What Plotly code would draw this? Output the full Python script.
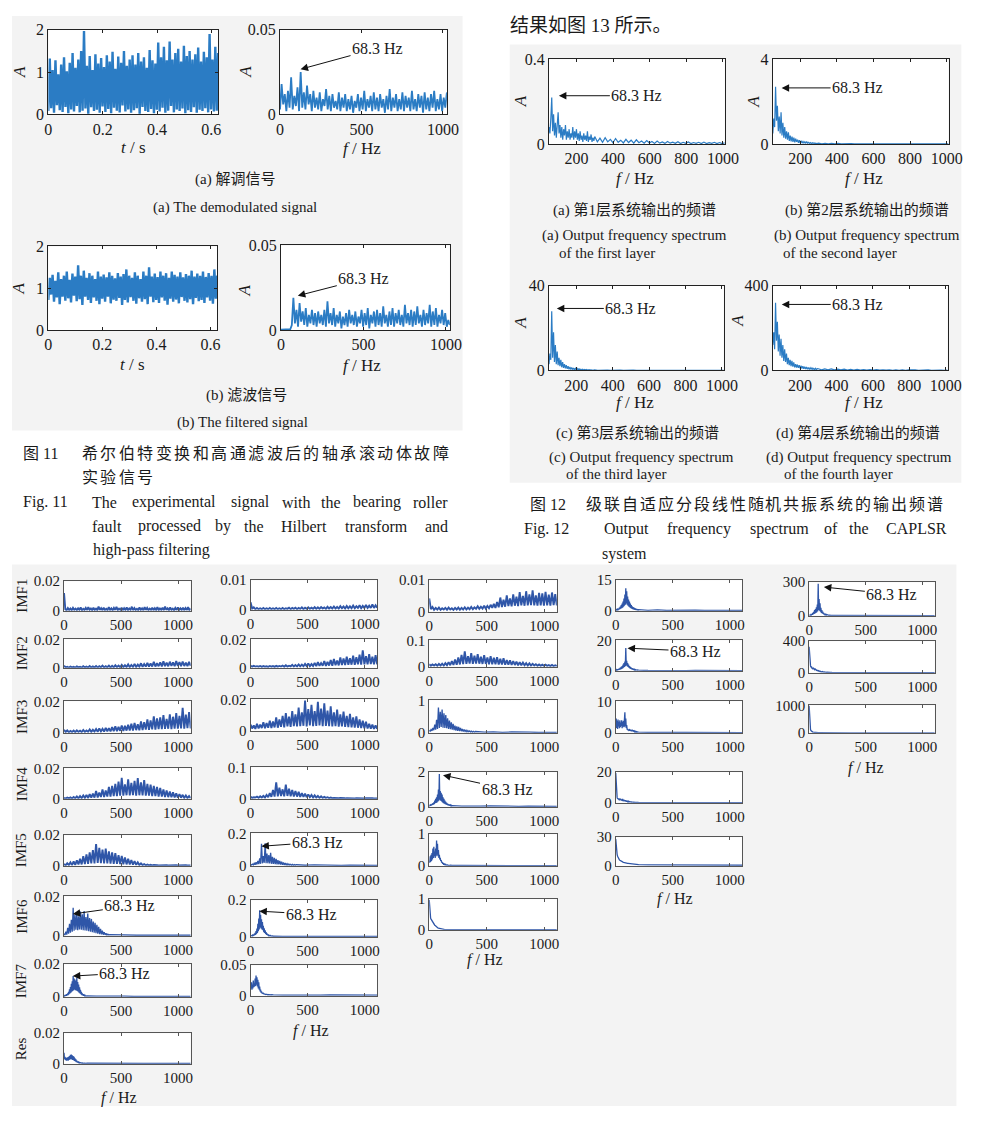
import numpy as np
import plotly.graph_objects as go

# The page body keeps the browser's default 8 px margin, so the figure is 16 px
# smaller than the 1000x1123 page and every position is shifted by 8 px.
PAGE_W, PAGE_H, OFF = 1000, 1123, 8
W, H = PAGE_W - 2 * OFF, PAGE_H - 2 * OFF
SERIF = "Liberation Serif, Times New Roman, Noto Sans CJK SC, serif"

# ======================= DATA =======================
t_end_s = 0.625
spec_end_hz = 1024
sig_demod = [0.08,1.32,0.15,1.05,0.04,1.28,0.22,0.95,0.10,1.18,0.06,1.35,0.18,1.02,0.03,1.22,0.12,1.45,0.07,1.10,
 0.20,1.30,0.05,1.50,0.09,1.97,0.14,1.15,0.02,1.38,0.17,1.05,0.08,1.42,0.11,1.20,0.04,1.33,0.19,1.12,
 0.06,1.40,0.13,1.25,0.03,1.48,0.16,1.08,0.09,1.37,0.05,1.22,0.21,1.50,0.07,1.15,0.12,1.30,0.04,1.40,
 0.10,1.18,0.15,1.45,0.02,1.25,0.18,1.35,0.08,1.10,0.06,1.52,0.13,1.28,0.03,1.20,0.11,1.70,0.07,1.35,
 0.16,1.60,0.04,1.28,0.09,1.72,0.20,1.30,0.05,1.45,0.12,1.55,0.08,1.25,0.14,1.62,0.03,1.38,0.10,1.50,
 0.06,1.30,0.17,1.42,0.04,1.58,0.11,1.25,0.08,1.48,0.15,1.35,0.05,1.90,0.12,1.30,0.07,1.60,0.09,1.45]
spec_demod = [0.003,0.018,0.006,0.012,0.002,0.014,0.004,0.022,0.003,0.011,0.005,0.016,0.002,0.025,0.004,0.013,0.003,0.017,0.006,0.012,
 0.002,0.014,0.004,0.010,0.003,0.013,0.002,0.009,0.005,0.015,0.003,0.011,0.002,0.012,0.004,0.008,0.003,0.013,0.002,0.010,
 0.004,0.012,0.002,0.009,0.003,0.011,0.001,0.008,0.004,0.012,0.002,0.010,0.003,0.014,0.002,0.009,0.004,0.011,0.002,0.013,
 0.003,0.010,0.002,0.012,0.004,0.009,0.001,0.011,0.003,0.015,0.002,0.010,0.004,0.012,0.002,0.009,0.003,0.013,0.002,0.011,
 0.004,0.010,0.002,0.014,0.003,0.009,0.002,0.012,0.004,0.011,0.001,0.013,0.003,0.010,0.002,0.012,0.004,0.014,0.002,0.009,
 0.003,0.012,0.002,0.010,0.004,0.013]
sig_filt = [0.72,1.25,0.85,1.32,0.68,1.18,0.78,1.38,0.62,1.22,0.80,1.30,0.70,1.40,0.76,1.20,0.66,1.35,0.82,1.28,
 0.69,1.55,0.74,1.30,0.60,1.42,0.80,1.25,0.72,1.36,0.65,1.30,0.78,1.22,0.70,1.40,0.62,1.28,0.75,1.33,
 0.68,1.26,0.80,1.38,0.64,1.30,0.73,1.24,0.70,1.36,0.77,1.28,0.60,1.34,0.72,1.45,0.66,1.30,0.79,1.25,
 0.70,1.38,0.63,1.30,0.76,1.22,0.68,1.40,0.74,1.30,0.62,1.50,0.80,1.28,0.67,1.35,0.72,1.27,0.65,1.40,
 0.78,1.30,0.70,1.36,0.61,1.25,0.75,1.40,0.68,1.32,0.73,1.28,0.64,1.38,0.79,1.26,0.70,1.34,0.66,1.30,
 0.74,1.42,0.62,1.28,0.77,1.35,0.69,1.30,0.72,1.40,0.65,1.27,0.78,1.36,0.70,1.30,0.63,1.45,0.75,1.30]
spec_filt = [0.0003,0.0003,0.0003,0.0003,0.0003,0.0004,0.0005,
 0.003,0.019,0.004,0.012,0.002,0.016,0.005,0.011,0.003,0.013,0.002,0.009,0.004,0.012,0.003,0.010,0.002,0.011,0.004,0.009,
 0.003,0.012,0.002,0.017,0.004,0.010,0.003,0.013,0.002,0.009,0.004,0.011,0.001,0.008,0.003,0.010,0.002,0.012,0.004,0.009,
 0.003,0.011,0.002,0.008,0.004,0.012,0.002,0.010,0.003,0.013,0.001,0.009,0.004,0.011,0.002,0.012,0.003,0.010,0.002,0.014,
 0.004,0.009,0.002,0.011,0.003,0.013,0.002,0.010,0.004,0.012,0.003,0.009,0.002,0.015,0.004,0.010,0.003,0.012,0.002,0.011,
 0.003,0.014,0.004,0.009,0.002,0.012,0.003,0.010,0.004,0.015,0.002,0.011,0.003,0.013,0.002,0.009,0.004,0.012,0.003,0.010,
 0.002,0.006,0.003]

layer1 = [0.08,0.05,0.12,0.22,0.06,0.14,0.04,0.10,0.03,0.12,
 0.15,0.05,0.09,0.03,0.08,0.02,0.07,0.04,0.09,0.02,
 0.06,0.03,0.07,0.02,0.05,0.03,0.08,0.02,0.06,0.03,
 0.07,0.02,0.05,0.015,0.06,0.02,0.04,0.01,0.05,0.02,
 0.04,0.015,0.06,0.01,0.035,0.02,0.045,0.01,0.03,0.015,
 0.035,0.01,0.028,0.008,0.03,0.01,0.022,0.006,0.026,0.008,
 0.018,0.005,0.022,0.007,0.018,0.004,0.02,0.006,0.014,0.004,
 0.016,0.005,0.012,0.003,0.014,0.004,0.01,0.003,0.012,0.004,
 0.009,0.003,0.011,0.002,0.008,0.003,0.01,0.002,0.007,0.003,
 0.008,0.002,0.009,0.002,0.006,0.003,0.008,0.002,0.007,0.002,0.005]
layer2 = [0.5,1.2,0.8,2.7,1.1,1.8,0.6,1.3,0.5,1.5,
 0.4,1.0,0.3,0.8,0.25,0.6,0.2,0.55,0.15,0.4,
 0.12,0.35,0.1,0.3,0.08,0.25,0.1,0.2,0.06,0.18,
 0.05,0.15,0.04,0.12,0.05,0.1,0.03,0.12,0.04,0.08,
 0.03,0.07,0.02,0.06,0.03,0.05,0.02,0.04,0.015,0.05,
 0.04,0.01,0.035,0.01,0.03,0.008,0.025,0.006,0.02,0.005,
 0.018,0.004,0.015,0.004,0.012,0.003,0.01,0.003,0.012,0.002,
 0.01,0.002,0.009,0.002,0.008,0.002,0.008,0.002,0.007,0.002,
 0.006,0.002,0.007,0.001,0.006,0.002,0.005,0.001,0.006,0.002,0.005]
layer3 = [3,8,5,28,6,18,4,12,3,9,
 2.5,6,2,5,1.5,4,1.2,3,1,2.5,
 0.8,2,0.6,1.6,0.5,1.4,0.4,1.2,0.4,1,
 0.3,0.9,0.25,0.8,0.3,0.6,0.2,0.6,0.2,0.5,
 0.2,0.45,0.15,0.4,0.15,0.35,0.1,0.3,0.1,0.3,
 0.25,0.08,0.22,0.06,0.2,0.05,0.18,0.05,0.15,0.04,
 0.14,0.04,0.12,0.03,0.12,0.03,0.1,0.03,0.1,0.02,
 0.09,0.02,0.08,0.02,0.08,0.02,0.07,0.02,0.07,0.02,
 0.06,0.02,0.06,0.01,0.06,0.02,0.05,0.01,0.05,0.01,0.05]
layer4 = [120,180,100,320,140,230,90,170,70,150,
 60,120,45,100,40,80,30,60,25,50,
 20,45,18,38,15,30,14,28,12,25,
 10,22,9,20,8,18,7,16,6,14,
 6,13,5,12,5,10,4,10,4,9,
 8,3,7,3,7,2.5,6,2.5,6,2,
 5,2,5,2,4.5,1.5,4,1.5,4,1.5,
 3.5,1.5,3.5,1,3,1,3,1,3,1,
 2.5,1,2.5,1,2.5,1,2,1,2,1,2]

c1_imf1 = [0.012,0.001,0.0003,0.0018,0.0005,0.0015,0.0004,0.002,0.0006,0.0014,
 0.0004,0.0016,0.0006,0.0022,0.0003,0.0013,0.0005,0.0019,0.0004,0.0025,0.0006,0.0015,0.0003,0.002,0.0005,0.0014,0.0004,0.0028,0.0006,0.0017,
 0.0003,0.0021,0.0005,0.0013,0.0004,0.0024,0.0006,0.0016,0.0003,0.0019,0.0005,0.0026,0.0004,0.0014,0.0006,0.002,0.0003,0.0017,0.0005,0.0023,
 0.0004,0.0015,0.0006,0.0027,0.0003,0.0018,0.0005,0.0013,0.0004,0.0022,0.0006,0.0016,0.0003,0.0025,0.0005,0.0019,0.0004,0.0014,0.0006,0.0021,
 0.0003,0.0017,0.0005,0.0024,0.0004,0.0015,0.0006,0.002,0.0003,0.0028,0.0005,0.0016,0.0004,0.0022,0.0006,0.0014,0.0003,0.0019,0.0005,0.0023,
 0.0004,0.0016,0.0006,0.0021,0.0003,0.0018,0.0005,0.0024,0.0004,0.0015]
c1_imf2 = [0.0015,0.0003,0.0008,0.0002,0.0009,0.0003,0.0007,0.0002,0.001,0.0003,
 0.0008,0.0002,0.0011,0.0003,0.0009,0.0002,0.0012,0.0003,0.001,0.0002,
 0.0013,0.0003,0.0011,0.0004,0.0015,0.0003,0.0012,0.0004,0.0016,0.0003,
 0.0014,0.0004,0.0018,0.0005,0.0016,0.0004,0.0021,0.0005,0.0018,0.0006,
 0.0024,0.0005,0.002,0.0007,0.0027,0.0006,0.0022,0.0008,0.0032,0.0007,
 0.0026,0.0009,0.0035,0.0008,0.003,0.001,0.0042,0.0009,0.0033,0.0011,
 0.0038,0.001,0.0045,0.0012,0.0036,0.0011,0.0043,0.0013,0.0039,0.0012,
 0.0047,0.0013,0.004,0.0012,0.0044,0.0013,0.0037,0.0012,0.0042,0.0014]
c1_imf3 = [0.002,0.0005,0.0015,0.0004,0.0012,0.0005,0.0014,0.0004,0.0016,0.0006,
 0.0013,0.0005,0.0018,0.0006,0.0015,0.0007,0.0021,0.0006,0.0019,0.0008,
 0.0024,0.0007,0.0028,0.0009,0.0025,0.0008,0.0032,0.001,0.003,0.0009,
 0.0036,0.0011,0.0042,0.001,0.0038,0.0013,0.0047,0.0012,0.0044,0.0014,
 0.0052,0.0015,0.0058,0.0014,0.0063,0.0017,0.0055,0.0016,0.0072,0.0018,
 0.0068,0.002,0.0085,0.0019,0.0078,0.0022,0.0104,0.0021,0.0092,0.0024,
 0.0098,0.0023,0.0112,0.0025,0.0088,0.0026,0.0118,0.0024,0.0102,0.0027,
 0.0125,0.0026,0.0108,0.0028,0.0158,0.0027,0.0115,0.0029,0.0132,0.0028]
c1_imf4 = [0.0006,0.0002,0.0008,0.0003,0.0009,0.0002,0.0012,0.0004,0.0015,0.0003,
 0.0018,0.0005,0.0022,0.0006,0.0026,0.0005,0.003,0.0007,0.0034,0.0008,
 0.0052,0.0009,0.0041,0.0012,0.0062,0.0011,0.0055,0.0015,0.0078,0.0014,
 0.0085,0.0018,0.0098,0.0017,0.0112,0.0021,0.0138,0.002,0.0095,0.0023,
 0.0128,0.0022,0.0105,0.0024,0.0118,0.0021,0.0135,0.0023,0.0108,0.0022,
 0.0122,0.002,0.0098,0.0021,0.0092,0.0018,0.0085,0.0017,0.0078,0.0015,
 0.0072,0.0014,0.0061,0.0012,0.0055,0.0011,0.0048,0.001,0.0042,0.0009,
 0.0035,0.0008,0.003,0.0007,0.0026,0.0006,0.0022,0.0005,0.0018,0.0004]
c1_imf5 = [0.0012,0.0003,0.0016,0.0005,0.0022,0.0004,0.0028,0.0006,0.0035,0.0008,
 0.0045,0.0009,0.0062,0.0011,0.0075,0.0013,0.0088,0.0015,0.0102,0.0016,
 0.0142,0.0018,0.0118,0.0017,0.0105,0.0016,0.0112,0.0015,0.0095,0.0014,
 0.0088,0.0013,0.0082,0.0012,0.007,0.0011,0.0064,0.001,0.0055,0.0009,
 0.0046,0.0008,0.0038,0.0007,0.003,0.0006,0.0022,0.0005,0.0016,0.0004,
 0.0011,0.0003,0.0008,0.0003,0.0006,0.0002,0.0005,0.0002,0.0004,0.0002,
 0.0003,0.0002,0.0003,0.0002,0.0003,0.0002,0.0003,0.0002,0.0003,0.0002,
 0.0003,0.0002,0.0003,0.0002,0.0003,0.0002,0.0003,0.0002,0.0003,0.0002]
c2_r1 = [0.0025,0.0004,0.0008,0.0002,0.0006,0.0002,0.0005,0.0002,0.0006,0.0002,
 0.0005,0.0002,0.0006,0.0002,0.0005,0.0002,0.0006,0.0002,0.0005,0.0002,
 0.0006,0.0002,0.0005,0.0003,0.0007,0.0002,0.0006,0.0003,0.0007,0.0002,
 0.0006,0.0003,0.0008,0.0002,0.0007,0.0003,0.0008,0.0003,0.0007,0.0003,
 0.0009,0.0003,0.0008,0.0003,0.0009,0.0004,0.0008,0.0003,0.001,0.0004,
 0.0009,0.0004,0.0011,0.0004,0.001,0.0004,0.0012,0.0005,0.0011,0.0004,
 0.0013,0.0005,0.0012,0.0005,0.0014,0.0005,0.0012,0.0006,0.0015,0.0005,
 0.0013,0.0006,0.0016,0.0006,0.0014,0.0006,0.0018,0.0006,0.0015,0.0007]
c2_r2 = [0.0015,0.0008,0.0014,0.0009,0.0012,0.0008,0.0013,0.0007,0.0012,0.0008,
 0.0011,0.0007,0.0013,0.0008,0.0012,0.0007,0.0014,0.0008,0.0013,0.0009,
 0.0016,0.0008,0.0018,0.0009,0.0015,0.001,0.0021,0.0009,0.0019,0.001,
 0.0024,0.001,0.0022,0.0011,0.0028,0.0012,0.0031,0.0011,0.0026,0.0013,
 0.0035,0.0012,0.004,0.0014,0.0033,0.0015,0.0048,0.0014,0.0042,0.0016,
 0.0055,0.0015,0.0062,0.0018,0.0051,0.0017,0.0072,0.0019,0.0065,0.002,
 0.0078,0.0021,0.0068,0.0022,0.0085,0.0021,0.0074,0.0024,0.0092,0.0023,
 0.0122,0.0025,0.0081,0.0024,0.0095,0.0026,0.0078,0.0025,0.0088,0.0024]
c2_r3 = [0.004,0.0015,0.0035,0.0012,0.0045,0.0015,0.004,0.0018,0.0055,0.0016,
 0.005,0.002,0.0065,0.0018,0.006,0.0022,0.0085,0.002,0.0072,0.0025,
 0.0095,0.0022,0.0112,0.0028,0.009,0.0025,0.0125,0.003,0.0105,0.0028,
 0.0148,0.003,0.0118,0.0032,0.0192,0.0028,0.0138,0.0035,0.0165,0.003,
 0.0125,0.0032,0.0185,0.0034,0.0142,0.003,0.0175,0.0032,0.0128,0.003,
 0.0155,0.0028,0.0118,0.003,0.0135,0.0026,0.0105,0.0028,0.0122,0.0025,
 0.0095,0.0024,0.0108,0.0022,0.0085,0.002,0.0092,0.002,0.0072,0.0018,
 0.0065,0.0016,0.0058,0.0015,0.0045,0.0014,0.004,0.0013,0.0035,0.0012]
c2_r4 = [0.006,0.003,0.005,0.004,0.007,0.003,0.008,0.004,0.009,0.004,
 0.012,0.005,0.018,0.006,0.028,0.007,0.052,0.008,0.035,0.009,
 0.03,0.008,0.045,0.009,0.032,0.008,0.028,0.007,0.025,0.007,
 0.022,0.006,0.018,0.006,0.016,0.005,0.014,0.005,0.012,0.004,
 0.011,0.004,0.009,0.003,0.008,0.003,0.006,0.003,0.005,0.002,
 0.004,0.002,0.003,0.002,0.003,0.002,0.0025,0.0015,0.0025,0.0015,
 0.002,0.0015,0.002,0.0012,0.002,0.0012,0.0018,0.0012,0.0018,0.001,
 0.0016,0.001,0.0016,0.001,0.0015,0.001,0.0015,0.001,0.0014,0.001]
c3_r1 = [0.0042,0.0008,0.0015,0.0006,0.0012,0.0007,0.0013,0.0006,0.0011,0.0007,
 0.0012,0.0006,0.0013,0.0007,0.0011,0.0006,0.0012,0.0007,0.0013,0.0006,
 0.0012,0.0007,0.0014,0.0007,0.0013,0.0008,0.0015,0.0008,0.0014,0.0009,
 0.0017,0.0009,0.0016,0.001,0.0019,0.001,0.0018,0.0011,0.0022,0.0012,
 0.0025,0.0012,0.0031,0.0014,0.0045,0.0015,0.0038,0.0016,0.0052,0.0018,
 0.0042,0.0017,0.0055,0.0019,0.0048,0.0018,0.0062,0.002,0.005,0.0019,
 0.0065,0.002,0.0055,0.0021,0.0068,0.002,0.0052,0.0019,0.006,0.002,
 0.0058,0.0019,0.0063,0.002,0.0054,0.0019,0.0061,0.0021,0.0056,0.002]
c3_r2 = [0.01,0.004,0.009,0.005,0.01,0.004,0.011,0.005,0.012,0.005,
 0.014,0.006,0.018,0.006,0.022,0.007,0.028,0.008,0.035,0.009,
 0.045,0.01,0.058,0.011,0.04,0.012,0.052,0.011,0.042,0.012,
 0.048,0.012,0.038,0.011,0.044,0.011,0.035,0.01,0.04,0.01,
 0.034,0.01,0.036,0.009,0.03,0.009,0.032,0.008,0.026,0.008,
 0.025,0.007,0.022,0.007,0.02,0.006,0.018,0.006,0.016,0.006,
 0.014,0.005,0.013,0.005,0.011,0.005,0.01,0.004,0.009,0.004,
 0.008,0.004,0.008,0.004,0.007,0.003,0.007,0.003,0.006,0.003]
c1_imf6 = [0.001,0.0003,0.002,0.0005,0.004,0.001,0.006,0.0015,0.008,0.002,
 0.0142,0.0025,0.0105,0.003,0.0118,0.0028,0.0098,0.0032,0.0122,0.003,
 0.0108,0.0028,0.0125,0.0026,0.0095,0.0025,0.0112,0.0022,0.009,0.002,
 0.0085,0.0018,0.0072,0.0015,0.0065,0.0012,0.0055,0.001,0.0045,0.0008,
 0.0035,0.0006,0.0025,0.0005,0.0018,0.0004,0.0012,0.0003,0.0008,0.0003,
 0.0005,0.0003,0.0004,0.0002,0.0003,0.0002,0.0003,0.0002,0.0002,0.0002]
c1_imf7 = [0.0008,0.0004,0.001,0.0005,0.0012,0.0006,0.0015,0.0008,0.002,0.001,
 0.003,0.0015,0.0045,0.002,0.006,0.0025,0.008,0.003,0.0095,0.0035,
 0.0128,0.004,0.0112,0.0045,0.0105,0.004,0.0098,0.0038,0.0118,0.0035,
 0.009,0.003,0.0075,0.0025,0.0058,0.002,0.0042,0.0015,0.003,0.001,
 0.002,0.0008,0.0015,0.0006,0.001,0.0005,0.0008,0.0004,0.0006,0.0003,
 0.0005,0.0003,0.0004,0.0003,0.0003,0.0002,0.0003,0.0002,0.0002,0.0002,0.0002,0.0002]
c1_res = [0.0072,0.003,0.0045,0.0025,0.004,0.002,0.0038,0.0022,0.0042,0.002,
 0.0045,0.0025,0.005,0.0028,0.0058,0.003,0.006,0.0028,0.0055,0.0025,
 0.005,0.0022,0.0045,0.0018,0.0035,0.0015,0.0028,0.001,0.002,0.0008,
 0.0015,0.0006,0.001,0.0005,0.0008,0.0004,0.0006,0.0003,0.0005,0.0003,
 0.0004,0.0002,0.0004,0.0002,0.0003,0.0002,0.0003,0.0002,0.0003,0.0002,
 0.0003,0.0002,0.0003,0.0002,0.0002,0.0002,0.0002,0.0002,0.0002,0.0002,0.0002,0.0002]
c2_r5 = [0.008,0.004,0.01,0.005,0.015,0.006,0.022,0.008,0.03,0.01,
 0.045,0.012,0.135,0.015,0.06,0.018,0.138,0.016,0.075,0.015,
 0.065,0.014,0.08,0.012,0.055,0.011,0.048,0.01,0.042,0.009,
 0.035,0.008,0.03,0.007,0.025,0.006,0.02,0.005,0.016,0.005,
 0.013,0.004,0.011,0.004,0.009,0.003,0.008,0.003,0.007,0.003,
 0.006,0.003,0.005,0.003,0.004,0.002,0.004,0.002,0.003,0.002]
c2_r6 = [0.005,0.003,0.006,0.004,0.008,0.005,0.01,0.006,0.015,0.008,
 0.02,0.01,0.03,0.015,0.045,0.02,0.07,0.03,0.1,0.04,
 0.145,0.05,0.12,0.045,0.095,0.04,0.08,0.035,0.06,0.025,
 0.045,0.02,0.035,0.015,0.025,0.01,0.018,0.008,0.012,0.006,
 0.009,0.005,0.007,0.004,0.006,0.003,0.005,0.003,0.004,0.002,
 0.003,0.002,0.003,0.002,0.0025,0.002,0.002,0.0015,0.002,0.0015,0.002,0.0015]
c2_r7 = [0.02,0.012,0.022,0.01,0.018,0.012,0.025,0.014,0.02,0.015,
 0.028,0.016,0.033,0.018,0.03,0.015,0.026,0.012,0.022,0.01,
 0.015,0.007,0.01,0.005,0.007,0.004,0.005,0.003,0.004,0.003,
 0.003,0.002,0.003,0.002,0.0025,0.002,0.002,0.0015,0.002,0.0015,
 0.002,0.0015,0.0018,0.0012,0.0018,0.0012,0.0016,0.0012,0.0015,0.001,
 0.0014,0.001,0.0013,0.001,0.0012,0.001,0.0012,0.0009,0.0011,0.0009,0.001,0.0009]
c3_r3 = [0.08,0.05,0.1,0.06,0.15,0.08,0.25,0.1,0.4,0.12,
 0.78,0.15,0.65,0.18,0.72,0.16,0.6,0.15,0.55,0.14,
 0.45,0.12,0.38,0.11,0.32,0.1,0.28,0.08,0.22,0.07,
 0.2,0.06,0.18,0.05,0.15,0.05,0.12,0.04,0.1,0.04,
 0.08,0.03,0.07,0.03,0.06,0.025,0.05,0.02,0.045,0.02,
 0.04,0.02,0.03,0.015,0.025,0.012,0.02,0.01,0.015,0.01]
c3_r4 = [0.08,0.05,0.1,0.06,0.12,0.08,0.15,0.1,0.2,0.12,
 0.25,0.15,0.35,0.2,0.45,0.22,0.55,0.25,0.7,0.3,
 1.0,0.35,1.9,0.4,0.9,0.35,0.8,0.3,0.7,0.25,
 0.55,0.2,0.45,0.18,0.35,0.15,0.28,0.12,0.22,0.1,
 0.18,0.08,0.15,0.07,0.12,0.06,0.1,0.05,0.08,0.04,
 0.06,0.03,0.05,0.03,0.04,0.02,0.03,0.02,0.025,0.015,0.02,0.015]
c3_r5 = [0.15,0.1,0.3,0.12,0.35,0.15,0.4,0.2,0.55,0.25,
 0.6,0.3,0.45,0.25,0.55,0.3,0.8,0.35,0.7,0.3,
 0.5,0.25,0.35,0.2,0.25,0.15,0.18,0.1,0.12,0.08,
 0.08,0.05,0.06,0.04,0.05,0.03,0.04,0.02,0.03,0.02,
 0.025,0.015,0.02,0.015,0.02,0.01,0.015,0.01,0.015,0.01,
 0.01,0.008,0.01,0.007,0.008,0.006,0.008,0.006,0.007,0.005,0.006,0.005]
c3_r6 = [0.98,0.6,0.42,0.38,0.35,0.32,0.28,0.3,0.25,0.22,
 0.2,0.18,0.15,0.14,0.12,0.1,0.09,0.08,0.07,0.06,
 0.05,0.045,0.04,0.035,0.03,0.028,0.025,0.022,0.02,0.018,
 0.016,0.015,0.014,0.013,0.012,0.011,0.01,0.01,0.009,0.009,
 0.008,0.008,0.007,0.007,0.007,0.006,0.006,0.006,0.005,0.005,
 0.005,0.004,0.004,0.004,0.003,0.003,0.003,0.003,0.003,0.002,0.002,0.002]
c4_r1 = [0.5,0.3,0.6,0.4,0.8,0.5,1.0,0.6,1.5,0.8,
 2.0,1.0,2.8,1.2,3.5,1.5,4.5,2.0,6.0,2.5,
 8.0,3.0,11.0,3.5,9.5,3.0,7.0,2.5,5.5,2.0,
 4.5,1.6,3.5,1.3,2.8,1.0,2.2,0.8,1.8,0.6,
 1.5,0.5,1.2,0.4,1.0,0.35,0.8,0.3,0.7,0.25,
 0.5,0.2,0.4,0.15,0.3,0.12,0.25,0.1,0.2,0.1,0.15,0.1]
c4_r2 = [0.5,0.3,0.8,0.4,1.0,0.5,1.2,0.6,1.5,0.8,
 2.0,1.0,2.5,1.2,3.0,1.5,4.0,2.0,5.0,2.5,
 6.0,3.0,15.0,3.5,6.5,3.0,5.0,2.5,4.0,2.0,
 3.0,1.5,2.5,1.2,2.0,1.0,1.6,0.8,1.3,0.6,
 1.0,0.5,0.8,0.4,0.7,0.35,0.6,0.3,0.5,0.25,
 0.4,0.2,0.3,0.15,0.25,0.12,0.2,0.1,0.15,0.1,0.12,0.08]
c4_r3 = [2.0,4.5,1.5,3.8,1.2,4.2,2.0,3.5,1.5,4.0,
 1.8,3.2,2.2,4.0,1.5,3.5,2.0,3.8,1.8,4.2,
 6.5,2.0,4.5,1.5,2.5,1.0,1.2,0.8,1.0,0.6,
 1.2,0.7,1.0,0.6,0.9,0.5,1.0,0.5,0.8,0.4,
 0.6,0.3,0.5,0.25,0.4,0.2,0.35,0.2,0.3,0.15,
 0.25,0.15,0.2,0.12,0.15,0.1,0.12,0.08,0.1,0.08,0.1,0.06]
c4_r4 = [19.5,8,5,3.5,2.5,3.0,2.0,2.5,1.5,2.8,
 1.8,2.5,1.5,2.2,1.2,2.5,1.0,2.0,1.2,1.8,
 0.9,1.6,0.8,1.4,0.7,1.2,0.6,1.0,0.5,0.8,
 0.5,0.7,0.4,0.6,0.35,0.5,0.3,0.45,0.25,0.4,
 0.25,0.35,0.2,0.3,0.2,0.25,0.15,0.2,0.15,0.2,
 0.15,0.12,0.12,0.1,0.1,0.08,0.08,0.07,0.07,0.06,0.06,0.05]
c4_r5 = [28,20,15,12,10,8.5,7.5,6.8,6.2,5.8,
 5.4,5.0,4.7,4.4,4.2,4.0,3.8,3.6,3.4,3.3,
 3.1,3.0,2.9,2.8,2.7,2.6,2.5,2.45,2.4,2.35,
 2.3,2.2,2.15,2.1,2.05,2.0,1.95,1.9,1.85,1.8,
 1.75,1.7,1.7,1.65,1.6,1.6,1.55,1.5,1.5,1.45,
 1.2,1.0,0.9,0.8,0.75,0.7,0.65,0.6,0.6,0.55,0.55,0.5]
c5_r1 = [5,3,8,4,10,6,15,8,25,12,
 35,15,50,20,60,25,75,30,100,40,
 285,50,150,45,110,35,70,25,50,20,
 35,15,25,10,18,8,12,6,10,5,
 8,4,6,3,5,3,4,2,3,2,
 2,1.5,1.5,1,1,1,1,0.8,0.8,0.6,0.6,0.5]
c5_r2 = [330,180,120,90,70,80,60,55,50,60,
 45,55,40,50,35,45,30,35,25,30,
 22,28,18,24,15,20,12,18,10,15,
 9,12,8,10,7,9,6,8,5,7,
 5,6,4,5,4,5,3,4,3,4,
 3,2,2,2,1.5,1.5,1.2,1.2,1,1,1,1]
c5_r3 = [980,400,200,120,80,60,45,35,28,22,
 18,15,12,10,9,8,7,6,5.5,5,
 4.5,4,3.8,3.5,3.2,3,2.8,2.6,2.4,2.2,
 2,1.9,1.8,1.7,1.6,1.5,1.4,1.3,1.2,1.1,
 1,1,0.9,0.9,0.8,0.8,0.7,0.7,0.6,0.6,
 0.5,0.5,0.4,0.4,0.4,0.3,0.3,0.3,0.3,0.2,0.2,0.2]

F13_END = 1110
N_FINE = 50


def fgrid(n, f0, step, n_lo, f_end):
    lo = f0 + step * np.arange(n_lo)
    hi = np.linspace(lo[-1] + step, f_end, n - n_lo)
    return np.r_[lo, hi]


C11 = '#2b7cc4'
C13 = '#2f56a8'
traces, axes, white_rects, anns = [], {}, [], []
counter = [0]


def px_x(x):
    return (x - OFF) / W


def px_y(y):
    return 1 - (y - OFF) / H


def add_panel(xv, yv, box, xr, yr, xtv, xtt, ytv, ytt, color, tsize, lcolor, lw=1.0):
    counter[0] += 1
    i = counter[0]
    s = '' if i == 1 else str(i)
    x0, y0, x1, y1 = box
    traces.append(go.Scatter(x=xv, y=yv, mode='lines', line=dict(color=color, width=lw),
                             xaxis='x' + s, yaxis='y' + s, hoverinfo='skip', showlegend=False))
    common = dict(showline=True, mirror='ticks', linecolor=lcolor, linewidth=1, ticks='inside',
                  ticklen=3, tickcolor=lcolor, showgrid=False, zeroline=False, fixedrange=True,
                  tickfont=dict(family=SERIF, size=tsize, color='#1a1a1a'))
    axes['xaxis' + s] = dict(domain=[px_x(x0), px_x(x1)], anchor='y' + s, range=xr,
                             tickvals=xtv, ticktext=xtt, **common)
    axes['yaxis' + s] = dict(domain=[px_y(y1), px_y(y0)], anchor='x' + s, range=yr,
                             tickvals=ytv, ticktext=ytt, **common)
    white_rects.append(dict(type='rect', xref='paper', yref='paper', x0=px_x(x0), x1=px_x(x1),
                            y0=px_y(y1), y1=px_y(y0), fillcolor='white', line_width=0, layer='below'))
    return s


def txt(s, x, y, size=16, xanchor='center', angle=0):
    anns.append(dict(text=s, x=px_x(x), y=px_y(y), xref='paper', yref='paper', showarrow=False,
                     xanchor=xanchor, yanchor='middle', textangle=angle,
                     font=dict(family=SERIF, size=size, color='#1a1a1a')))


def spaced(s, x0, pitch, y, size=16):
    for k, ch in enumerate(s):
        txt(ch, x0 + pitch * (k + 0.5), y, size)


def arrow(s, x, y, ax, ay, size=16):
    anns.append(dict(text='68.3 Hz', x=x, y=y, xref='x' + s, yref='y' + s, ax=ax, ay=ay,
                     showarrow=True, arrowhead=2, arrowsize=1.5, arrowwidth=1, arrowcolor='#111',
                     standoff=0, font=dict(family=SERIF, size=size, color='#1a1a1a')))


fmt = lambda v: '{:g}'.format(v)

# ======================= FIG. 11 =======================
t_ticks = [0, 0.2, 0.4, 0.6]
f_ticks = [0, 500, 1000]
add_panel(np.linspace(0, t_end_s, len(sig_demod)), sig_demod, (45, 22, 218, 108), [0, t_end_s], [0, 2],
          t_ticks, [fmt(v) for v in t_ticks], [0, 1, 2], ['0', '1', '2'], C11, 16, '#222', 2.4)
s = add_panel(np.linspace(0, spec_end_hz, len(spec_demod)), spec_demod, (281, 22, 451, 108), [0, spec_end_hz],
              [0, 0.05], f_ticks, [fmt(v) for v in f_ticks], [0, 0.05], ['0', '0.05'], C11, 16, '#222', 1.8)
arrow(s, 126, 0.0267, 77, -21)
add_panel(np.linspace(0, t_end_s, len(sig_filt)), sig_filt, (45, 242, 217, 327), [0, t_end_s], [0, 2],
          t_ticks, [fmt(v) for v in t_ticks], [0, 1, 2], ['0', '1', '2'], C11, 16, '#222', 2.4)
s = add_panel(np.linspace(0, spec_end_hz, len(spec_filt)), spec_filt, (282, 241, 454, 327), [0, spec_end_hz],
              [0, 0.05], f_ticks, [fmt(v) for v in f_ticks], [0, 0.05], ['0', '0.05'], C11, 16, '#222', 1.8)
arrow(s, 102, 0.0203, 66, -17)

for (x, y) in [(15, 65), (245, 65), (15, 285), (245, 287)]:
    txt('<i>A</i>', x, y, 17, angle=-90)
txt('<i>t</i> / s', 132, 142, 17)
txt('<i>f</i> / Hz', 365, 143, 17)
txt('<i>t</i> / s', 131, 362, 17)
txt('<i>f</i> / Hz', 365, 363, 17)
txt('(a) 解调信号', 235, 174, 15)
txt('(a) The demodulated signal', 235, 202, 15)
txt('(b) 滤波信号', 247, 393, 15)
txt('(b) The filtered signal', 243, 421, 15)

txt('图 11', 17, 452, 16, 'left')
spaced('希尔伯特变换和高通滤波后的轴承滚动体故障', 78, 18.8, 452, 16)
spaced('实验信号', 78, 18.8, 477, 16)
txt('Fig. 11', 17, 502, 16, 'left')
for w, cx in [('The', 102), ('experimental', 173), ('signal', 251), ('with', 297), ('the', 333),
              ('bearing', 380), ('roller', 434)]:
    txt(w, cx, 502, 16)
for w, cx in [('fault', 105), ('processed', 168), ('by', 223), ('the', 255), ('Hilbert', 305),
              ('transform', 379), ('and', 440)]:
    txt(w, cx, 526, 16)
txt('high-pass filtering', 88, 550, 16, 'left')

# ======================= FIG. 12 =======================
txt('结果如图 13 所示。', 513, 18, 19, 'left')
f12_ticks = [200, 400, 600, 800, 1000]
f12_lbl = [fmt(v) for v in f12_ticks]
layer_specs = [
    (layer1, (555, 52, 734, 138), 0.4, (104, 0.228, 78, 0)),
    (layer2, (783, 52, 962, 138), 4, (98, 2.65, 76, 0)),
    (layer3, (555, 282, 733, 368), 40, (93, 29.3, 74, 0)),
    (layer4, (783, 282, 961, 368), 400, (99, 312, 76, 0)),
]
for vals, box, ymax, arr in layer_specs:
    s = add_panel(fgrid(len(vals), 50, 5, N_FINE, 1010), vals, box, [50, 1010], [0, ymax],
                  f12_ticks, f12_lbl, [0, ymax], ['0', fmt(ymax)], C11, 16, '#222', 1.2)
    arrow(s, *arr)

for (x, y) in [(526, 95), (763, 95), (526, 320), (747, 317)]:
    txt('<i>A</i>', x, y, 17, angle=-90)
for cx in (643, 876):
    txt('<i>f</i> / Hz', cx, 173, 17)
    txt('<i>f</i> / Hz', cx, 401, 17)
txt('(a) 第1层系统输出的频谱', 642, 205, 15)
txt('(a) Output frequency spectrum', 642, 231, 15)
txt('of the first layer', 614, 249, 15)
txt('(b) 第2层系统输出的频谱', 879, 205, 15)
txt('(b) Output frequency spectrum', 879, 231, 15)
txt('of the second layer', 851, 249, 15)
txt('(c) 第3层系统输出的频谱', 645, 431, 15)
txt('(c) Output frequency spectrum', 649, 456, 15)
txt('of the third layer', 623, 473, 15)
txt('(d) 第4层系统输出的频谱', 870, 431, 15)
txt('(d) Output frequency spectrum', 871, 456, 15)
txt('of the fourth layer', 850, 473, 15)

txt('图 12', 534, 504, 16, 'left')
spaced('级联自适应分段线性随机共振系统的输出频谱', 592, 18.25, 504, 16)
txt('Fig. 12', 527, 529, 16, 'left')
for w, cx in [('Output', 634), ('frequency', 708), ('spectrum', 790), ('of', 842), ('the', 871),
              ('CAPLSR', 929)]:
    txt(w, cx, 529, 16)
txt('system', 607, 554, 16, 'left')

# ======================= FIG. 13 =======================
f13_ticks = [0, 500, 1000]
f13_lbl = [fmt(v) for v in f13_ticks]
columns = [
    (61, 190, [
        (c1_imf1, None, 0.02, (582, 612)), (c1_imf2, None, 0.02, (641, 670)),
        (c1_imf3, None, 0.02, (704, 736)), (c1_imf4, None, 0.02, (772, 803)),
        (c1_imf5, None, 0.02, (840, 871)), (c1_imf6, 8, 0.02, (902, 942)),
        (c1_imf7, 4, 0.02, (971, 1004)), (c1_res, 4, 0.02, (1041, 1072))]),
    (251, 380, [
        (c2_r1, None, 0.01, (581, 611)), (c2_r2, None, 0.02, (641, 670)),
        (c2_r3, None, 0.02, (702, 734)), (c2_r4, None, 0.1, (771, 803)),
        (c2_r5, 8, 0.2, (838, 871)), (c2_r6, 4, 0.2, (906, 943)),
        (c2_r7, 4, 0.05, (972, 1003))]),
    (433, 563, [
        (c3_r1, None, 0.01, (581, 613)), (c3_r2, None, 0.1, (642, 669)),
        (c3_r3, 8, 1, (703, 736)), (c3_r4, 4, 2, (776, 811)),
        (c3_r5, 4, 1, (839, 871)), (c3_r6, 4, 1, (905, 936))]),
    (623, 752, [
        (c4_r1, 4, 15, (581, 612)), (c4_r2, 4, 20, (642, 673)),
        (c4_r3, 4, 10, (704, 736)), (c4_r4, 4, 20, (776, 807)),
        (c4_r5, 4, 30, (842, 871))]),
    (820, 948, [
        (c5_r1, 4, 300, (583, 617)), (c5_r2, 4, 400, (643, 675)),
        (c5_r3, 4, 1000, (708, 736))]),
]
sfx13 = {}
for ci, (x0, x1, rows) in enumerate(columns):
    for ri, (vals, step, ymax, (y0, y1)) in enumerate(rows):
        if step is None:
            fx = np.linspace(0, F13_END, len(vals))
            lw = 1.9
        else:
            fx = fgrid(len(vals), 0, step, N_FINE, F13_END)
            lw = 1.3
        s = add_panel(fx, vals, (x0, y0, x1, y1), [0, F13_END], [0, ymax], f13_ticks, f13_lbl,
                      [0, ymax], ['0', fmt(ymax)], C13, 15, '#555', lw)
        sfx13[(ci, ri)] = s

arrow(sfx13[(1, 4)], 95, 0.12, 56, -4)
arrow(sfx13[(0, 5)], 77, 0.011, 57, -8)
arrow(sfx13[(1, 5)], 77, 0.14, 52, 3)
arrow(sfx13[(0, 6)], 77, 0.0127, 52, -3)
arrow(sfx13[(2, 3)], 120, 1.83, 64, 14)
arrow(sfx13[(3, 1)], 103, 14.8, 68, 3)
arrow(sfx13[(4, 0)], 130, 256, 68, 7)

for lbl, (y0, y1) in zip(['IMF1', 'IMF2', 'IMF3', 'IMF4', 'IMF5', 'IMF6', 'IMF7', 'Res'],
                         [r[3] for r in columns[0][2]]):
    txt(lbl, 18, (y0 + y1) / 2, 15, angle=-90)
for (cx, cy) in [(117, 1107), (313, 1039), (490, 967), (683, 905), (878, 772)]:
    txt('<i>f</i> / Hz', cx, cy, 16)

# ======================= BACKGROUND =======================
gray = '#f3f3f3'
bg = [dict(type='rect', xref='paper', yref='paper', x0=px_x(a), x1=px_x(b), y0=px_y(d), y1=px_y(c),
           fillcolor=gray, line_width=0, layer='below')
      for (a, c, b, d) in [(8, 8, 467, 429), (515, 37, 975, 482), (8, 565, 970, 1115)]]

fig = go.Figure(data=traces)
fig.update_layout(width=W, height=H, autosize=False, margin=dict(l=0, r=0, t=0, b=0),
                  paper_bgcolor='white', plot_bgcolor='rgba(0,0,0,0)', showlegend=False,
                  shapes=bg + white_rects, annotations=anns, **axes)
fig.write_html("out.html", config={'displayModeBar': False, 'staticPlot': True})
